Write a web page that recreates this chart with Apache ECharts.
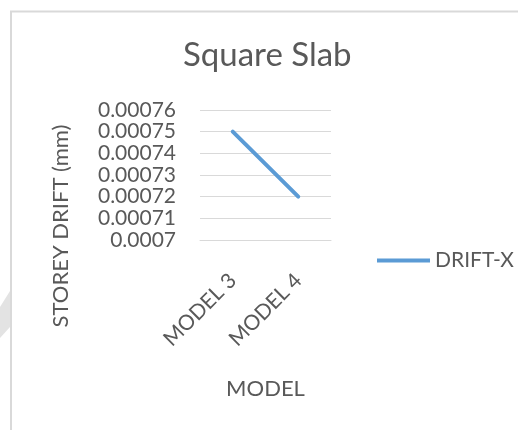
<!DOCTYPE html>
<html>
<head>
<meta charset="utf-8">
<script src="https://cdn.jsdelivr.net/npm/echarts@6/dist/echarts.min.js"></script>
<style>
  html, body { margin: 0; padding: 0; background: #fff; }
  #chart { width: 518px; height: 430px; }
</style>
</head>
<body>
<div id="chart"></div>
<script>
// data
var models = ['MODEL 3', 'MODEL 4']
var driftX = [0.00075, 0.00072]
var seriesName = 'DRIFT-X'

var font = 'Lato'
var textColor = '#595959'

var chart = echarts.init(document.getElementById('chart'))
chart.setOption({
  animation: false,
  textStyle: { fontFamily: font, fontSize: 21, color: textColor },
  graphic: [
    // chart area border
    {
      type: 'rect',
      shape: { x: 11, y: 11.5, width: 600, height: 600 },
      style: { fill: 'none', stroke: '#d9d9d9', lineWidth: 2 }
    },
    // faint mark on the left edge
    {
      type: 'polygon',
      shape: { points: [[0, 307], [10, 291], [10, 327], [0, 338]] },
      style: { fill: '#e3e3e3' }
    }
  ],
  title: {
    text: 'Square Slab',
    left: 183,
    top: 39,
    padding: 0,
    textStyle: { fontFamily: font, fontSize: 33, fontWeight: 'normal', color: textColor }
  },
  legend: {
    data: [seriesName],
    left: 372,
    top: 245,
    icon: 'rect',
    itemWidth: 53,
    itemHeight: 4,
    textStyle: { fontFamily: font, fontSize: 21, color: textColor }
  },
  grid: {
    left: 200,
    right: 187,
    top: 110,
    bottom: 190
  },
  xAxis: {
    type: 'category',
    data: models,
    name: 'MODEL',
    nameLocation: 'middle',
    nameGap: 138,
    nameTextStyle: { fontFamily: font, fontSize: 22, color: textColor },
    axisLine: { lineStyle: { color: '#d9d9d9' } },
    axisTick: { show: false },
    axisLabel: {
      rotate: 45,
      margin: 37,
      fontFamily: font,
      fontSize: 21,
      color: textColor
    }
  },
  yAxis: {
    type: 'value',
    min: 0.0007,
    max: 0.00076,
    interval: 0.00001,
    name: 'STOREY DRIFT (mm)',
    nameLocation: 'middle',
    nameGap: 128,
    // push the title down so it centres on plot + labels, as excel does
    nameTextStyle: { fontFamily: font, fontSize: 22, color: textColor, padding: [0, 102, 0, 0] },
    axisLine: { show: false },
    axisTick: { show: false },
    axisLabel: {
      margin: 24,
      fontFamily: font,
      fontSize: 21,
      color: textColor,
      formatter: function (v) { return String(+v.toFixed(5)) }
    },
    splitLine: { lineStyle: { color: '#d9d9d9', width: 1 } }
  },
  series: [{
    name: seriesName,
    type: 'line',
    data: driftX,
    symbol: 'none',
    lineStyle: { color: '#5b9bd5', width: 4, cap: 'round' },
    itemStyle: { color: '#5b9bd5' }
  }]
})
</script>
</body>
</html>
